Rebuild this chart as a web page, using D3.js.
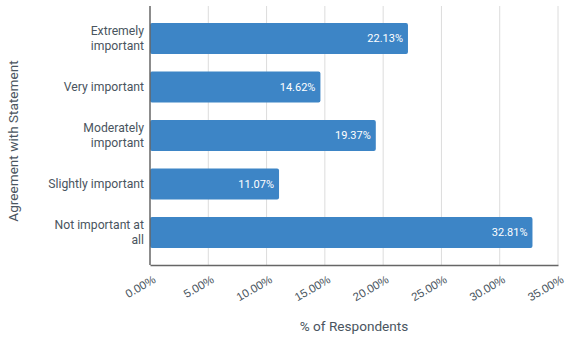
<!DOCTYPE html>
<html lang="en">
<head>
<meta charset="UTF-8">
<title>Agreement with Statement</title>
<script src="https://d3js.org/d3.v7.min.js"></script>
<style>
    body { margin: 0; background: #fff; font-family: Roboto, Arial, sans-serif; }
    svg { display: block; }
    .cat text { fill: #4a5560; font-size: 12.2px; }
    .tick text { fill: #4a5560; font-size: 11.5px; }
    .val { fill: #fff; font-size: 11px; }
    .title { fill: #4a5560; font-size: 13.6px; }
</style>
</head>
<body>
<svg id="chart"></svg>
<script>
// Data
const categories = [
    ["Extremely", "important"],
    ["Very important"],
    ["Moderately", "important"],
    ["Slightly important"],
    ["Not important at", "all"]
];
const values = [22.13, 14.62, 19.37, 11.07, 32.81];
const xTicks = [0, 5, 10, 15, 20, 25, 30, 35];

const width = 566, height = 337;
const margin = { top: 6, right: 8, bottom: 72, left: 150 };

const svg = d3.select("#chart").attr("width", width).attr("height", height);

const x = d3.scaleLinear().domain([0, 35]).range([margin.left, width - margin.right]);
const y = d3.scaleBand()
    .domain(d3.range(categories.length))
    .range([margin.top, height - margin.bottom])
    .paddingInner(0.36)
    .paddingOuter(0.35);

// gridlines
svg.append("g")
    .selectAll("line")
    .data(xTicks.slice(1))
    .join("line")
    .attr("x1", d => x(d)).attr("x2", d => x(d))
    .attr("y1", margin.top).attr("y2", height - margin.bottom)
    .attr("stroke", "#dcdcdc").attr("stroke-width", 1);

// bars
svg.append("g")
    .selectAll("rect")
    .data(values)
    .join("rect")
    .attr("x", x(0))
    .attr("y", (d, i) => y(i))
    .attr("width", d => x(d) - x(0))
    .attr("height", y.bandwidth())
    .attr("rx", 2)
    .attr("fill", "#3d85c6");

// value labels
svg.append("g")
    .selectAll("text")
    .data(values)
    .join("text")
    .attr("class", "val")
    .attr("x", d => x(d) - 5)
    .attr("y", (d, i) => y(i) + y.bandwidth() / 2)
    .attr("dy", "0.35em")
    .attr("text-anchor", "end")
    .text(d => d.toFixed(2) + "%");

// category labels
const cat = svg.append("g").attr("class", "cat")
    .selectAll("text")
    .data(categories)
    .join("text")
    .attr("text-anchor", "end")
    .attr("x", margin.left - 6)
    .attr("y", (d, i) => y(i) + y.bandwidth() / 2);
cat.selectAll("tspan")
    .data(d => d.map((t, k) => ({ t, k, n: d.length })))
    .join("tspan")
    .attr("x", margin.left - 6)
    .attr("dy", d => d.k === 0 ? ((0.35 - (d.n - 1) * 0.6) + "em") : "1.2em")
    .text(d => d.t);

// x axis
const xAxis = svg.append("g")
    .attr("transform", `translate(0,${height - margin.bottom})`)
    .call(d3.axisBottom(x).tickValues(xTicks).tickSize(0).tickFormat(d => d.toFixed(2) + "%"));
xAxis.select(".domain").attr("stroke", "#666").attr("stroke-width", 1.5);
xAxis.selectAll(".tick text")
    .attr("text-anchor", "end")
    .attr("dy", null)
    .attr("y", 0)
    .attr("transform", "translate(6,17) rotate(-30)");

// y axis line
svg.append("line")
    .attr("x1", x(0)).attr("x2", x(0))
    .attr("y1", margin.top).attr("y2", height - margin.bottom)
    .attr("stroke", "#666").attr("stroke-width", 1.5);

// titles
svg.append("text")
    .attr("class", "title")
    .attr("x", (x(0) + x(35)) / 2)
    .attr("y", 331)
    .attr("text-anchor", "middle")
    .text("% of Respondents");

svg.append("text")
    .attr("class", "title")
    .attr("transform", "translate(18,141) rotate(-90)")
    .attr("text-anchor", "middle")
    .text("Agreement with Statement");
</script>
</body>
</html>
